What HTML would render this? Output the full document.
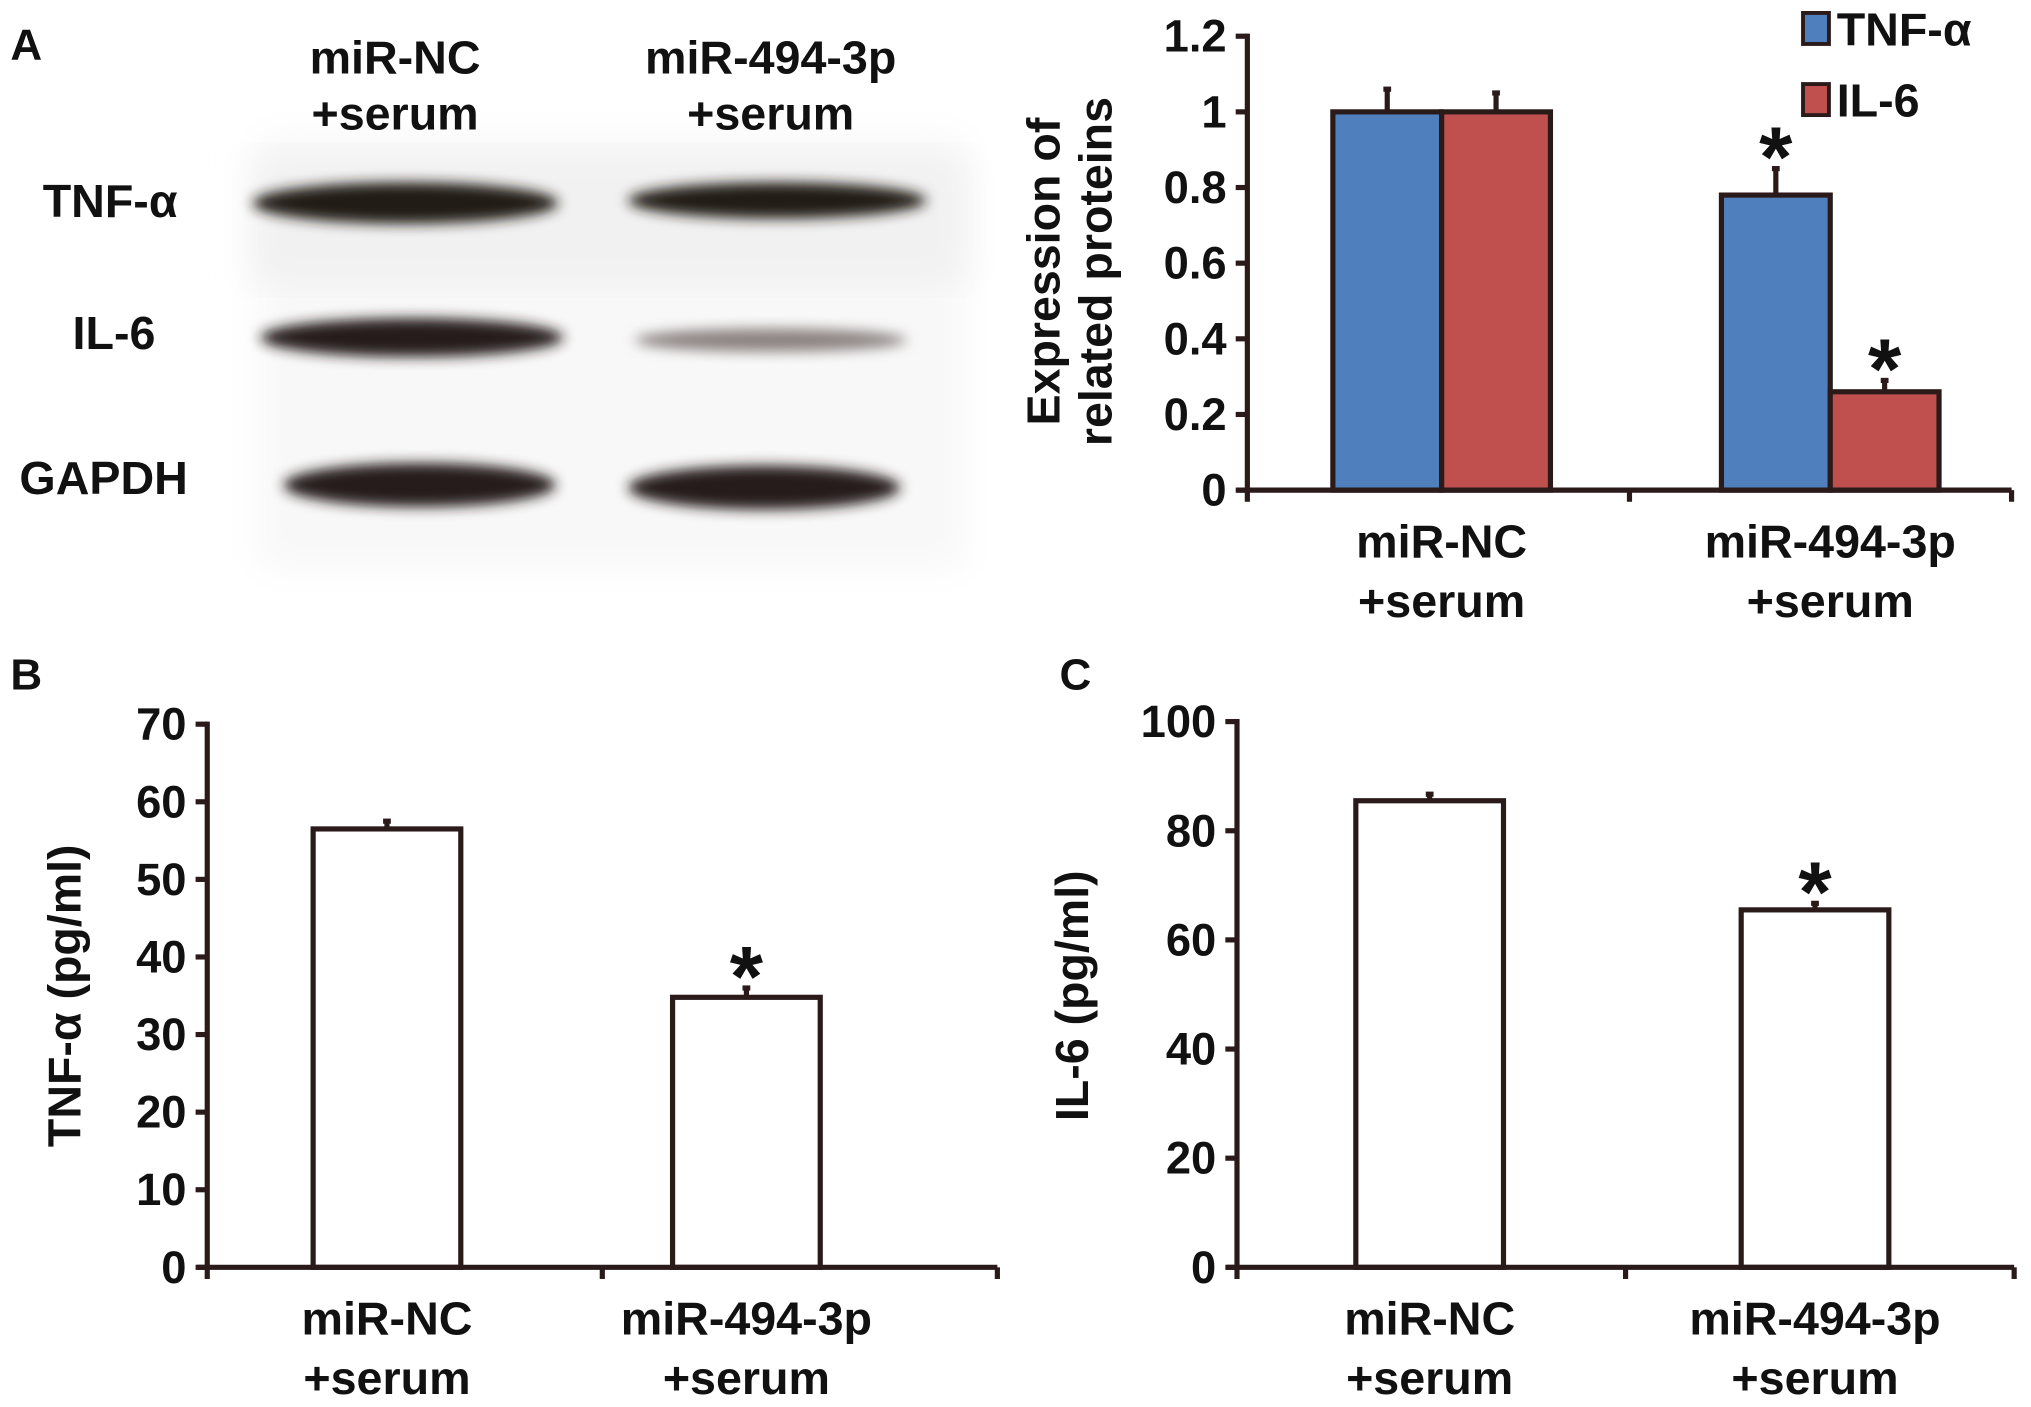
<!DOCTYPE html>
<html><head><meta charset="utf-8"><style>
html,body{margin:0;padding:0;background:#fff;}
svg{display:block;}
text{font-family:"Liberation Sans Narrow","Liberation Sans",sans-serif;font-weight:bold;fill:#111;}
</style></head><body>
<svg id="fig" width="2031" height="1407" viewBox="0 0 1568 1088" preserveAspectRatio="none">
<defs>
<filter id="blur" x="-20%" y="-50%" width="140%" height="200%"><feGaussianBlur stdDeviation="5"/></filter>
<filter id="blur2"><feGaussianBlur stdDeviation="14"/></filter>
</defs>
<g id="blot">
<rect x="200" y="105" width="545" height="335" fill="#f8f8f8" filter="url(#blur2)"/>
<rect x="195" y="120" width="550" height="100" fill="#f1f1f1" filter="url(#blur2)"/>
<ellipse cx="313" cy="157" rx="118" ry="16" fill="#231a18" filter="url(#blur)"/>
<ellipse cx="600" cy="155" rx="115" ry="14" fill="#231a18" filter="url(#blur)"/>
<ellipse cx="318" cy="261" rx="117" ry="15" fill="#261c1a" filter="url(#blur)"/>
<ellipse cx="595" cy="263" rx="105" ry="9" fill="#8a8280" filter="url(#blur)"/>
<ellipse cx="324" cy="375" rx="105" ry="17" fill="#261c1a" filter="url(#blur)"/>
<ellipse cx="590" cy="377" rx="105" ry="17" fill="#261c1a" filter="url(#blur)"/>
<text x="8" y="46" font-size="34">A</text>
<text x="305" y="57" font-size="36" text-anchor="middle">miR-NC</text>
<text x="305" y="100" font-size="36" text-anchor="middle">+serum</text>
<text x="595" y="57" font-size="36" text-anchor="middle">miR-494-3p</text>
<text x="595" y="100" font-size="36" text-anchor="middle">+serum</text>
<text x="85" y="168" font-size="36" text-anchor="middle">TNF-α</text>
<text x="88" y="270" font-size="36" text-anchor="middle">IL-6</text>
<text x="80" y="382" font-size="36" text-anchor="middle">GAPDH</text>
</g>
<g id="chartA"></g>
<g id="chartB"></g>
<g id="chartC"></g>
</svg>
<script>
const categories = ["miR-NC", "miR-494-3p"];
const aTnfValues = [1.0, 0.78];
const aTnfErrors = [0.06, 0.07];
const aIl6Values = [1.0, 0.26];
const aIl6Errors = [0.05, 0.03];
const aTicks = ["0", "0.2", "0.4", "0.6", "0.8", "1", "1.2"];
const aStars = [false, true];
const bValues = [56.5, 34.8];
const bErrors = [1.0, 1.2];
const bTicks = ["0", "10", "20", "30", "40", "50", "60", "70"];
const bStars = [false, true];
const cValues = [85.5, 65.5];
const cErrors = [1.2, 1.2];
const cTicks = ["0", "20", "40", "60", "80", "100"];
const cStars = [false, true];

const NS = "http://www.w3.org/2000/svg";
function mk(parent, tag, attrs, txt) {
  const e = document.createElementNS(NS, tag);
  for (const k in attrs) e.setAttribute(k, attrs[k]);
  if (txt !== undefined) e.textContent = txt;
  parent.appendChild(e);
  return e;
}
const LC = "#2a1a1a";

function drawChart(g, o) {
  const ticksNum = o.ticks.map(Number);
  const ymax = ticksNum[ticksNum.length - 1];
  const y = v => o.y0 - (v / ymax) * (o.y0 - o.yTop);
  const groupW = (o.xEnd - o.x0) / categories.length;
  const bandW = (o.xEnd - o.padR - o.x0) / categories.length;
  const series = o.series;
  const nS = series.length;
  categories.forEach((c, i) => {
    const gx = o.x0 + bandW * i + bandW / 2;
    const totalW = o.barW * nS;
    series.forEach((s, j) => {
      const bx = gx - totalW / 2 + j * o.barW;
      const v = s.values[i];
      const top = y(v);
      const eTop = y(v + s.errors[i]);
      const eb = mk(g, "line", {x1: bx + o.barW / 2, x2: bx + o.barW / 2, y1: top, y2: eTop, stroke: LC, "stroke-width": 4});
      
      
      const cap = mk(g, "line", {x1: bx + o.barW / 2 - 3, x2: bx + o.barW / 2 + 3, y1: eTop, y2: eTop, stroke: LC, "stroke-width": 4});
      
      
      const r = mk(g, "rect", {x: bx, y: top, width: o.barW, height: o.y0 - top, fill: s.color, stroke: LC, "stroke-width": 4});
      
      
      if (s.stars[i]) {
        const st = mk(g, "text", {x: bx + o.barW / 2, y: eTop + 14, "font-size": 66, "text-anchor": "middle"}, "*");
        
        
      }
    });
    const l1 = mk(g, "text", {x: gx, y: o.y0 + 52, "font-size": 36, "text-anchor": "middle"}, c);
    
    
    const l2 = mk(g, "text", {x: gx, y: o.y0 + 98, "font-size": 36, "text-anchor": "middle"}, "+serum");
    
    
  });
  const ya = mk(g, "line", {x1: o.x0, x2: o.x0, y1: o.yTop - 2, y2: o.y0 + 2, stroke: LC, "stroke-width": 4});
  
  
  const xa = mk(g, "line", {x1: o.x0 - 8, x2: o.xEnd, y1: o.y0, y2: o.y0, stroke: LC, "stroke-width": 4});
  
  
  for (let i = 0; i <= categories.length; i++) {
    const tx = o.x0 + groupW * i;
    const t = mk(g, "line", {x1: tx, x2: tx, y1: o.y0, y2: o.y0 + 9, stroke: LC, "stroke-width": 4});
    
    
  }
  o.ticks.forEach((lab, i) => {
    const ty = y(ticksNum[i]);
    const t = mk(g, "line", {x1: o.x0 - 9, x2: o.x0, y1: ty, y2: ty, stroke: LC, "stroke-width": 4});
    
    
    const tl = mk(g, "text", {x: o.x0 - 16, y: ty + 12, "font-size": 35, "text-anchor": "end"}, lab);
    
    
  });
  o.titles.forEach((t, i) => {
    const tt = mk(g, "text", {x: 0, y: 0, "font-size": 36, "text-anchor": "middle", transform: `translate(${o.titleX[i]},${o.titleY}) rotate(-90)`}, t);
    
    
  });
  if (o.panel) {
    const p = mk(g, "text", {x: o.panel[1], y: o.panel[2], "font-size": 34}, o.panel[0]);
    
    
  }
}

drawChart(document.getElementById("chartA"), {
  x0: 963, xEnd: 1553, padR: -10, y0: 379, yTop: 28, barW: 84, ticks: aTicks,
  series: [
    {values: aTnfValues, errors: aTnfErrors, color: "#4f7fbd", stars: aStars},
    {values: aIl6Values, errors: aIl6Errors, color: "#c0504d", stars: aStars}
  ],
  titles: ["Expression of", "related proteins"], titleX: [818, 858], titleY: 210
});
drawChart(document.getElementById("chartB"), {
  x0: 160, xEnd: 770, padR: 55, y0: 980, yTop: 560, barW: 114, ticks: bTicks,
  series: [{values: bValues, errors: bErrors, color: "#fff", stars: bStars}],
  titles: ["TNF-α (pg/ml)"], titleX: [62], titleY: 770, panel: ["B", 8, 533]
});
drawChart(document.getElementById("chartC"), {
  x0: 955, xEnd: 1555, padR: 5, y0: 980, yTop: 558, barW: 114, ticks: cTicks,
  series: [{values: cValues, errors: cErrors, color: "#fff", stars: cStars}],
  titles: ["IL-6 (pg/ml)"], titleX: [840], titleY: 770, panel: ["C", 818, 533]
});

const lg = document.getElementById("chartA");
const legendNames = ["TNF-α", "IL-6"];
const legendColors = ["#4f7fbd", "#c0504d"];
legendNames.forEach((n, i) => {
  const r = mk(lg, "rect", {x: 1392, y: 10 + i * 55, width: 20, height: 24, fill: legendColors[i], stroke: LC, "stroke-width": 3});
  
  
  const t = mk(lg, "text", {x: 1418, y: 35 + i * 55, "font-size": 36}, n);
  
  
});
</script>
</body></html>
